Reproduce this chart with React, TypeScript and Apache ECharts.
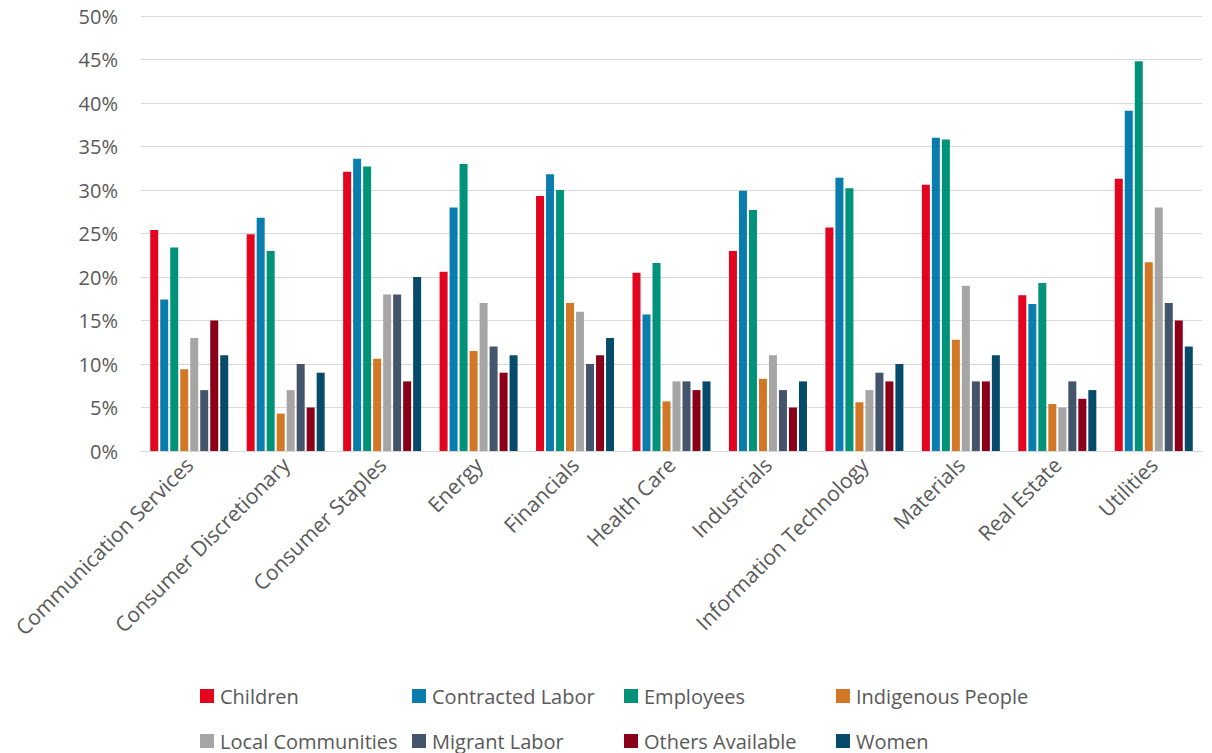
import React, { useEffect, useRef } from "react";
import * as echarts from "echarts";

const categories = [
  "Communication Services",
  "Consumer Discretionary",
  "Consumer Staples",
  "Energy",
  "Financials",
  "Health Care",
  "Industrials",
  "Information Technology",
  "Materials",
  "Real Estate",
  "Utilities",
];

const seriesNames = [
  "Children",
  "Contracted Labor",
  "Employees",
  "Indigenous People",
  "Local Communities",
  "Migrant Labor",
  "Others Available",
  "Women",
];

const colors = ["#E3051F", "#0A7DAF", "#00937A", "#D27726", "#A5A5A5", "#44546A", "#8A0019", "#064C6A"];

const children = [25.4, 24.9, 32.1, 20.6, 29.3, 20.5, 23.0, 25.7, 30.6, 17.9, 31.3];
const contractedLabor = [17.4, 26.8, 33.6, 28.0, 31.8, 15.7, 29.9, 31.4, 36.0, 16.9, 39.1];
const employees = [23.4, 23.0, 32.7, 33.0, 30.0, 21.6, 27.7, 30.2, 35.8, 19.3, 44.8];
const indigenousPeople = [9.4, 4.3, 10.6, 11.5, 17.0, 5.7, 8.3, 5.6, 12.8, 5.4, 21.7];
const localCommunities = [13, 7, 18, 17, 16, 8, 11, 7, 19, 5, 28];
const migrantLabor = [7, 10, 18, 12, 10, 8, 7, 9, 8, 8, 17];
const othersAvailable = [15, 5, 8, 9, 11, 7, 5, 8, 8, 6, 15];
const women = [11, 9, 20, 11, 13, 8, 8, 10, 11, 7, 12];

const seriesValues = [
  children,
  contractedLabor,
  employees,
  indigenousPeople,
  localCommunities,
  migrantLabor,
  othersAvailable,
  women,
];

const yTicks = { min: 0, max: 50, interval: 5 };

const FONT = "Open Sans";
const TEXT = "#595959";

const legendLefts = [200, 412, 624, 836];
const legendTops = [686, 731];

export default function App() {
  const ref = useRef<HTMLDivElement>(null);

  useEffect(() => {
    if (!ref.current) return;
    const chart = echarts.init(ref.current, undefined, { renderer: "svg" });
    chart.setOption({
      animation: false,
      textStyle: { fontFamily: FONT },
      grid: { left: 141, right: 10, top: 16, bottom: 302, containLabel: false },
      legend: seriesNames.map((name, i) => ({
        show: true,
        left: legendLefts[i % 4],
        top: legendTops[Math.floor(i / 4)],
        padding: 0,
        itemWidth: 14,
        itemHeight: 14,
        itemGap: 0,
        icon: "rect",
        selectedMode: false,
        data: [name],
        textStyle: {
          fontFamily: FONT,
          fontSize: 20,
          lineHeight: 20,
          color: TEXT,
          padding: [0, 0, 0, 1],
        },
      })),
      xAxis: {
        type: "category",
        data: categories,
        axisLine: { show: true, lineStyle: { color: "#D9D9D9", width: 1 } },
        axisTick: { show: false },
        axisLabel: {
          rotate: 45,
          interval: 0,
          margin: 10,
          fontFamily: FONT,
          fontSize: 21,
          color: TEXT,
        },
      },
      yAxis: {
        type: "value",
        min: yTicks.min,
        max: yTicks.max,
        interval: yTicks.interval,
        axisLine: { show: false },
        axisTick: { show: false },
        splitLine: { show: true, lineStyle: { color: "#D9D9D9", width: 1 } },
        axisLabel: {
          formatter: "{value}%",
          margin: 23,
          fontFamily: FONT,
          fontSize: 20,
          color: TEXT,
        },
      },
      series: seriesNames.map((name, i) => ({
        name,
        type: "bar",
        data: seriesValues[i],
        barWidth: 8,
        barGap: "25%",
        itemStyle: { color: colors[i] },
      })),
    });
    return () => chart.dispose();
  }, []);

  return (
    <div
      ref={ref}
      style={{ position: "fixed", left: 0, top: 0, width: 1212, height: 753, background: "#fff" }}
    />
  );
}
